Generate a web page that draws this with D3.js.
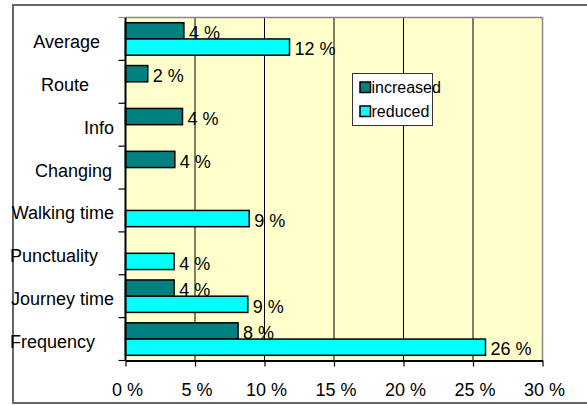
<!DOCTYPE html>
<html>
<head>
<meta charset="utf-8">
<script src="https://cdn.jsdelivr.net/npm/d3@7"></script>
<style>
  html, body { margin: 0; padding: 0; background: #fff; }
  svg { display: block; font-family: "Liberation Sans", Arial, sans-serif; }
</style>
</head>
<body>
<svg id="chart" width="587" height="405"></svg>
<script>
// Categories, top to bottom
const categories = ["Average", "Route", "Info", "Changing", "Walking time", "Punctuality", "Journey time", "Frequency"];
// Share of respondents (%) per factor
const increased = [4.2, 1.6, 4.1, 3.55, null, null, 3.5, 8.1];
const reduced   = [11.8, null, null, null, 8.9, 3.5, 8.8, 25.9];
const seriesNames = ["increased", "reduced"];
const xTicks = [0, 5, 10, 15, 20, 25, 30];

// Horizontal nudges for the category labels (right-aligned block)
const labelNudge = [-14, -25, 0, -2, 0, -16, 0, -19];

const colors = { increased: "#008080", reduced: "#00ffff" };
const svg = d3.select("#chart");

const plot = { left: 125.5, right: 542.5, top: 17.5, bottom: 360.5 };

const x = d3.scaleLinear().domain([0, 30]).range([plot.left, plot.right]);
const y = d3.scaleBand().domain(categories).range([plot.top, plot.bottom]).paddingInner(0).paddingOuter(0);
const ySub = d3.scaleBand().domain(seriesNames).range([0, y.bandwidth()]).paddingInner(0).paddingOuter(0.32);

// Outer chart frame
svg.append("rect")
  .attr("x", 13).attr("y", 5)
  .attr("width", 600).attr("height", 398)
  .attr("fill", "#fff").attr("stroke", "#666").attr("stroke-width", 2);

// Plot background
svg.append("rect")
  .attr("x", plot.left).attr("y", plot.top)
  .attr("width", plot.right - plot.left).attr("height", plot.bottom - plot.top)
  .attr("fill", "#ffffcc");

// Vertical gridlines
svg.append("g").selectAll("line")
  .data(xTicks.filter(t => t > 0 && t < 30))
  .join("line")
  .attr("x1", d => x(d)).attr("x2", d => x(d))
  .attr("y1", plot.top).attr("y2", plot.bottom)
  .attr("stroke", "#000").attr("stroke-width", 1);

// Plot border (top and right)
svg.append("path")
  .attr("d", `M${plot.left},${plot.top}H${plot.right}V${plot.bottom}`)
  .attr("fill", "none").attr("stroke", "#888").attr("stroke-width", 1.5);

// Bars and value labels, series by series
const rows = categories.map((c, i) => ({ c, increased: increased[i], reduced: reduced[i] }));
const fmt = v => Math.round(v) + " %";

seriesNames.forEach(s => {
  const data = rows.filter(r => r[s] != null);
  svg.append("g").selectAll("rect")
    .data(data)
    .join("rect")
    .attr("x", x(0))
    .attr("y", d => y(d.c) + ySub(s))
    .attr("width", d => x(d[s]) - x(0))
    .attr("height", ySub.bandwidth())
    .attr("fill", colors[s])
    .attr("stroke", "#000").attr("stroke-width", 1.5);

  svg.append("g").selectAll("text")
    .data(data)
    .join("text")
    .attr("x", d => x(d[s]) + 5)
    .attr("y", d => y(d.c) + ySub(s) + ySub.bandwidth() / 2 + 8.3)
    .attr("font-size", 18)
    .attr("fill", "#000")
    .text(d => fmt(d[s]));
});

// Left (category) axis
const yAxis = svg.append("g");
yAxis.append("line")
  .attr("x1", plot.left).attr("x2", plot.left)
  .attr("y1", plot.top).attr("y2", plot.bottom)
  .attr("stroke", "#000").attr("stroke-width", 2);
const boundaries = categories.map(c => y(c)).concat([plot.bottom]);
yAxis.selectAll("line.tick")
  .data(boundaries)
  .join("line").attr("class", "tick")
  .attr("x1", plot.left - 7).attr("x2", plot.left)
  .attr("y1", d => d).attr("y2", d => d)
  .attr("stroke", (d, i) => i === 0 ? "#888" : "#000").attr("stroke-width", 1.2);
yAxis.selectAll("text")
  .data(categories)
  .join("text")
  .attr("x", (d, i) => 114 + labelNudge[i])
  .attr("y", d => y(d) + y.bandwidth() / 2 + 9)
  .attr("text-anchor", "end")
  .attr("font-size", 18)
  .attr("fill", "#000")
  .text(d => d);

// Bottom (value) axis
const xAxis = svg.append("g").attr("transform", `translate(0,${plot.bottom})`)
  .call(d3.axisBottom(x).tickValues(xTicks).tickSizeInner(6).tickSizeOuter(0).tickFormat(d => d + " %"));
xAxis.select(".domain").attr("stroke", "#000").attr("stroke-width", 2);
xAxis.selectAll(".tick line").attr("stroke", "#000").attr("stroke-width", 1.2);
xAxis.selectAll(".tick text")
  .attr("y", 35.2).attr("dy", null).attr("dx", 1.5)
  .attr("font-size", 18).attr("font-family", "Liberation Sans, Arial, sans-serif")
  .attr("fill", "#000");

// Legend
const legend = svg.append("g");
legend.append("rect")
  .attr("x", 352.5).attr("y", 73.5).attr("width", 80).attr("height", 52)
  .attr("fill", "#fff").attr("stroke", "#333").attr("stroke-width", 1);
seriesNames.forEach((s, i) => {
  legend.append("rect")
    .attr("x", 360).attr("y", 82 + i * 24)
    .attr("width", 10.5).attr("height", 10.5)
    .attr("fill", colors[s]).attr("stroke", "#000").attr("stroke-width", 1.5);
  legend.append("text")
    .attr("x", 371.5).attr("y", 92.5 + i * 24.5)
    .attr("font-size", 16).attr("fill", "#000")
    .text(s);
});
</script>
</body>
</html>
